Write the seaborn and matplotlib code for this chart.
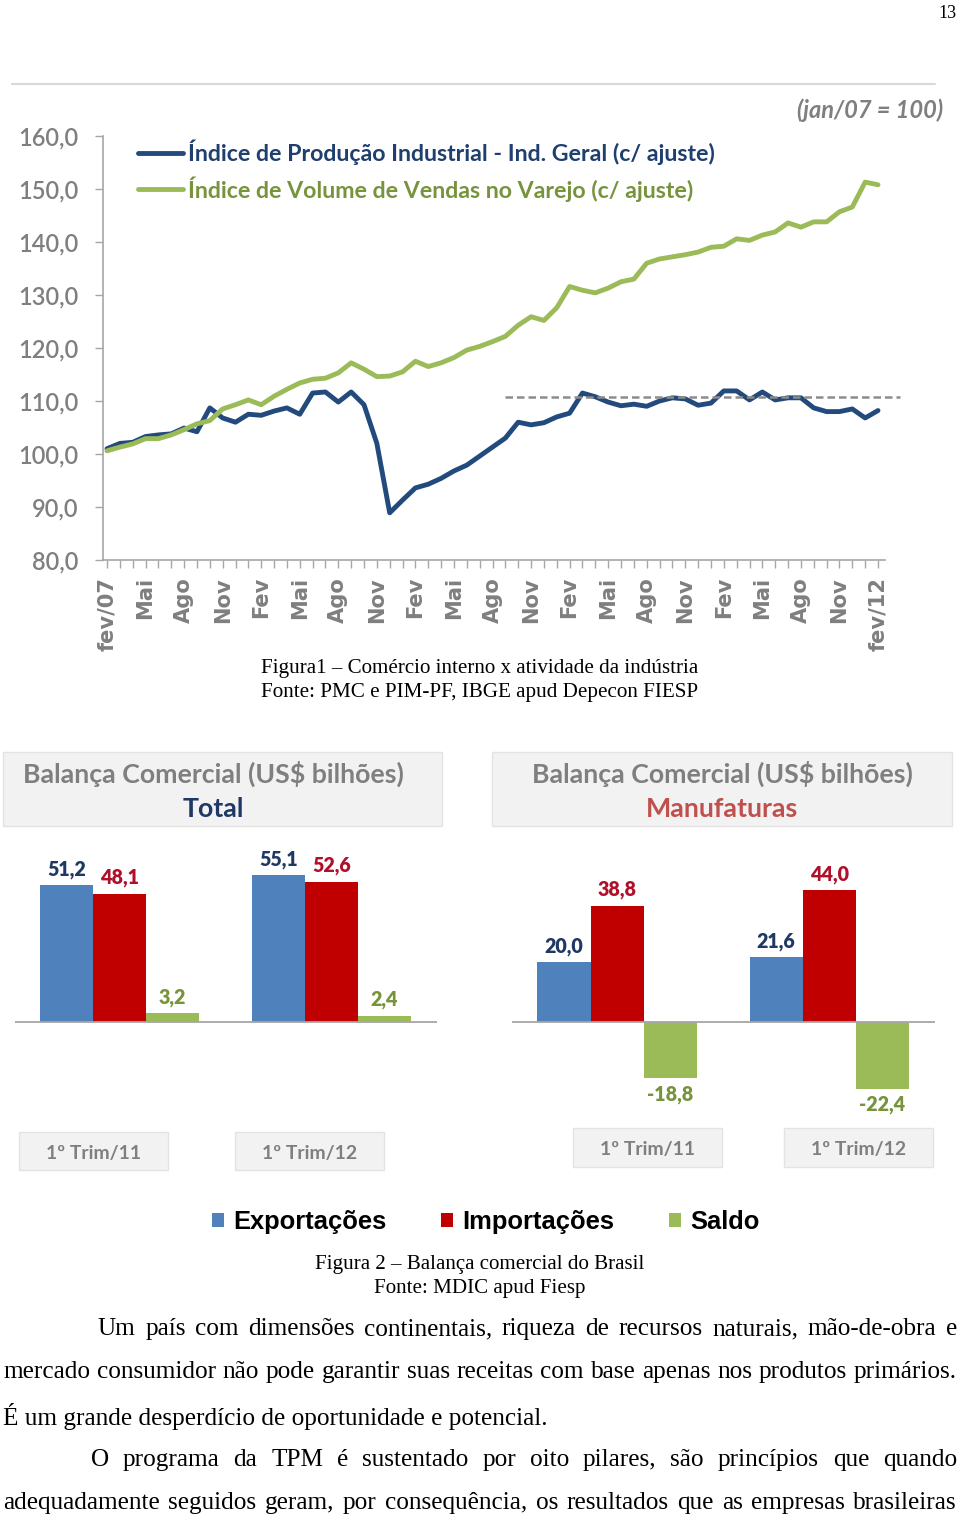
import numpy as np
import pandas as pd
import matplotlib
matplotlib.use('Agg')
import matplotlib.pyplot as plt
import seaborn as sns
from matplotlib.patches import Rectangle
from matplotlib.lines import Line2D
from matplotlib.ticker import MultipleLocator

sns.set_theme(style="white")
plt.rcParams['font.family'] = ['Lato', 'DejaVu Sans']

W, H = 960, 1515

# ---- Figura 1: indices mensais, fev/07 .. fev/12 (jan/07 = 100)
serie_industria = 'Índice de Produção Industrial - Ind. Geral (c/ ajuste)'
serie_varejo = 'Índice de Volume de Vendas no Varejo (c/ ajuste)'
producao_industrial = [
    101.0, 102.0, 102.2, 103.3, 103.6, 103.8, 104.9, 104.2, 108.7, 106.8,
    106.0, 107.5, 107.3, 108.1, 108.7, 107.5, 111.5, 111.7, 109.8, 111.7,
    109.3, 102.0, 88.9, 91.3, 93.6, 94.3, 95.4, 96.8, 97.9, 99.6,
    101.3, 103.0, 106.0, 105.5, 105.9, 107.0, 107.7, 111.5, 110.8, 109.8,
    109.1, 109.4, 109.0, 110.0, 110.6, 110.4, 109.2, 109.6, 111.9, 111.9,
    110.2, 111.7, 110.2, 110.6, 110.6, 108.7, 108.0, 108.0, 108.5, 106.8,
    108.2]
vendas_varejo = [
    100.6, 101.3, 101.9, 102.9, 102.9, 103.6, 104.6, 105.7, 106.3, 108.5,
    109.3, 110.2, 109.3, 110.9, 112.2, 113.4, 114.1, 114.3, 115.3, 117.2,
    116.0, 114.6, 114.7, 115.5, 117.5, 116.5, 117.2, 118.2, 119.6, 120.3,
    121.2, 122.2, 124.3, 125.9, 125.2, 127.6, 131.6, 130.9, 130.4, 131.3,
    132.5, 133.0, 136.0, 136.8, 137.2, 137.6, 138.1, 139.0, 139.2, 140.6,
    140.3, 141.3, 141.9, 143.6, 142.8, 143.8, 143.8, 145.7, 146.6, 151.3,
    150.8]
rotulos_meses = ['fev/07', 'Mai', 'Ago', 'Nov', 'Fev', 'Mai', 'Ago', 'Nov',
                 'Fev', 'Mai', 'Ago', 'Nov', 'Fev', 'Mai', 'Ago', 'Nov',
                 'Fev', 'Mai', 'Ago', 'Nov', 'fev/12']
nivel_referencia = 110.8
ref_inicio, ref_fim = 31, 61.7

# ---- Figura 2: balanca comercial (US$ bilhoes)
trimestres = ['1º Trim/11', '1º Trim/12']
series_bal = ['Exportações', 'Importações', 'Saldo']
total_exp = [51.2, 55.1]
total_imp = [48.1, 52.6]
total_saldo = [3.2, 2.4]
manuf_exp = [20.0, 21.6]
manuf_imp = [38.8, 44.0]
manuf_saldo = [-18.8, -22.4]

azul, verde = '#234a7d', '#9bbb59'
cores_barras = ['#4f81bd', '#c00000', '#9bbb59']
cores_rotulos = ['#1f3864', '#b0102a', '#77933c']
cinza = '#7f7f7f'

fig = plt.figure(figsize=(W / 100, H / 100), dpi=100)
fig.patch.set_facecolor('white')
renderer = fig.canvas.get_renderer()
PT = 100 / 72  # px per point


def px_axes(x0, y0, x1, y1):
    return fig.add_axes([x0 / W, 1 - y1 / H, (x1 - x0) / W, (y1 - y0) / H])


def fit(s, width, **kw):
    t = fig.text(0, 0, s, fontsize=10, **kw)
    w = t.get_window_extent(renderer).width
    t.remove()
    return 10 * width / w


def put(x, y, s, width=None, size=12, ha='center', va='center', **kw):
    if width is not None:
        size = fit(s, width, **kw)
    return fig.text(x / W, 1 - (y + 2) / H, s, fontsize=size, ha=ha, va=va, **kw)


def box(x0, y0, x1, y1, face='#f2f2f2', edge='#e3e3e3'):
    fig.add_artist(Rectangle((x0 / W, 1 - y1 / H), (x1 - x0) / W, (y1 - y0) / H,
                             transform=fig.transFigure, facecolor=face,
                             edgecolor=edge, linewidth=1))


def justify(line, x0, x1, y, size, **kw):
    words = line.split()
    widths = []
    for w_ in words:
        t = fig.text(0, 0, w_, fontsize=size, **kw)
        widths.append(t.get_window_extent(renderer).width)
        t.remove()
    gap = (x1 - x0 - sum(widths)) / (len(words) - 1)
    x = x0
    for w_, wd in zip(words, widths):
        fig.text(x / W, 1 - (y + 2) / H, w_, fontsize=size, ha='left', va='center', **kw)
        x += wd + gap


# page number and top rule
put(957, 12, '13', ha='right', size=13, family='Liberation Serif', color='black')
fig.add_artist(Line2D([12 / W, 935 / W], [1 - 84 / H] * 2, color='#d9d9d9', lw=1.5))

# ================= Figura 1 =================
ax = px_axes(103, 136, 885, 560)
meses = np.arange(len(producao_industrial))
df_idx = pd.DataFrame({
    'mes': np.concatenate([meses, meses]),
    'indice': producao_industrial + vendas_varejo,
    'serie': [serie_industria] * len(meses) + [serie_varejo] * len(meses),
})
sns.lineplot(data=df_idx, x='mes', y='indice', hue='serie',
             hue_order=[serie_industria, serie_varejo], palette=[azul, verde],
             linewidth=3.5, legend=False, ax=ax)
for ln in ax.lines:
    ln.set_solid_joinstyle('round')
ax.hlines(nivel_referencia, ref_inicio, ref_fim, colors='#8c8c8c',
          linestyles=(0, (3, 1.6)), linewidth=1.8, clip_on=False)

ax.set_xlim(-(107 - 103) / 12.85, 60 + (885 - 878) / 12.85)
ax.set_ylim(80, 160)
ax.set_xlabel('')
ax.set_ylabel('')
sns.despine(ax=ax)
for s in ['left', 'bottom']:
    ax.spines[s].set_color('#a6a6a6')
    ax.spines[s].set_linewidth(1.2)

yt = list(range(80, 161, 10))
ax.set_yticks(yt)
ysize = fit('160,0', 60, family='Lato', weight='semibold')
ax.set_yticklabels([f'{v:.1f}'.replace('.', ',') for v in yt],
                   fontsize=ysize, color=cinza, family='Lato', fontweight='semibold')
ax.set_xticks(range(0, 61, 3))
xsize = fit('fev/07', 74, family='DejaVu Sans', weight='bold')
ax.set_xticklabels(rotulos_meses, rotation=90, fontsize=xsize, color=cinza,
                   family='DejaVu Sans', fontweight='bold')
ax.xaxis.set_minor_locator(MultipleLocator(1))
ax.tick_params(axis='y', left=True, direction='out', length=8 / PT, width=1,
               color='#a6a6a6', pad=17 / PT)
ax.tick_params(axis='x', which='both', bottom=True, direction='out',
               length=8 / PT, width=1, color='#a6a6a6', pad=9 / PT)

legsize = fit(serie_industria, 528, family='Lato', weight='bold')
leg = ax.legend(ax.lines[:2], [serie_industria, serie_varejo],
                loc='upper left',
                bbox_to_anchor=(138 / W, 1 - (154 - 0.62 * legsize * PT) / H),
                bbox_transform=fig.transFigure, frameon=False,
                borderpad=0, borderaxespad=0,
                handlelength=45 / PT / legsize, handletextpad=5 / PT / legsize,
                labelspacing=(39 / PT - 1.22 * legsize) / legsize,
                prop={'family': 'Lato', 'weight': 'bold', 'size': legsize})
for t, c in zip(leg.get_texts(), ['#1f3f6e', '#77933c']):
    t.set_color(c)

put(943, 108, '(jan/07 = 100)', width=146, ha='right', color=cinza,
    style='italic', weight='bold', family='Lato')

cap_kw = dict(family='Liberation Serif', color='black')
put(480, 667, 'Figura1 – Comércio interno x atividade da indústria', width=437, **cap_kw)
put(480, 691, 'Fonte: PMC e PIM-PF, IBGE apud Depecon FIESP', width=438, **cap_kw)

# ================= Figura 2 =================
lbl_size = fit('51,2', 39, family='Lato', weight='heavy')


def painel(ax, exp, imp, saldo, ylim, legenda):
    df = pd.DataFrame({'trimestre': trimestres * 3,
                       'serie': np.repeat(series_bal, len(trimestres)),
                       'valor': exp + imp + saldo})
    sns.barplot(data=df, x='trimestre', y='valor', hue='serie',
                hue_order=series_bal, palette=cores_barras, width=0.75,
                saturation=1, linewidth=0, errorbar=None, legend=legenda, ax=ax)
    for cont, c in zip(ax.containers, cores_rotulos):
        ax.bar_label(cont, labels=[f'{v:.1f}'.replace('.', ',') for v in cont.datavalues],
                     padding=4.5, color=c, fontsize=lbl_size, fontweight='heavy',
                     family='Lato')
    ax.axhline(0, color='#a6a6a6', lw=1.3)
    ax.set_xlim(-0.495, 1.498)
    ax.set_ylim(*ylim)
    ax.set_axis_off()


ax1 = px_axes(15, 850, 437, 1100)
painel(ax1, total_exp, total_imp, total_saldo,
       (-(1100 - 1022) / 2.67, (1022 - 850) / 2.67), False)
ax2 = px_axes(512, 850, 935, 1100)
painel(ax2, manuf_exp, manuf_imp, manuf_saldo,
       (-(1100 - 1022) / 3.0, (1022 - 850) / 3.0), True)
leg_b = ax2.get_legend()
handles = leg_b.legend_handles
labels = [t.get_text() for t in leg_b.get_texts()]
leg_b.remove()

# header boxes
head_kw = dict(family='Lato', weight='bold')
hsize = fit('Balança Comercial (US$ bilhões)', 382, **head_kw)
box(3, 752, 442, 826)
box(492, 752, 952, 826)
put(213, 772, 'Balança Comercial (US$ bilhões)', size=hsize, color=cinza, **head_kw)
put(213, 807, 'Total', size=hsize, color='#1f3864', **head_kw)
put(722, 772, 'Balança Comercial (US$ bilhões)', size=hsize, color=cinza, **head_kw)
put(722, 807, 'Manufaturas', size=hsize, color='#c0504d', **head_kw)

# category boxes
csize = fit(trimestres[0], 95, **head_kw)
for (x0, y0, x1, y1), lab in zip([(19, 1132, 168, 1170), (235, 1132, 384, 1170),
                                  (573, 1128, 722, 1167), (784, 1128, 933, 1167)],
                                 trimestres * 2):
    box(x0, y0, x1, y1)
    put((x0 + x1) / 2, (y0 + y1) / 2, lab, size=csize, color=cinza, **head_kw)

# legend
lg_size = fit('Exportações', 153, family='Liberation Sans', weight='bold')
fpx = lg_size * PT
fig.legend(handles, labels, loc='center', bbox_to_anchor=(486 / W, 1 - 1222 / H),
           ncol=3, frameon=False, labelcolor='black',
           handlelength=12 / fpx, handleheight=12 / fpx, handletextpad=9 / fpx,
           columnspacing=55 / fpx, borderpad=0,
           prop={'family': 'Liberation Sans', 'weight': 'bold', 'size': lg_size})

put(480, 1262, 'Figura 2 – Balança comercial do Brasil', width=330, **cap_kw)
put(480, 1287, 'Fonte: MDIC apud Fiesp', width=211, **cap_kw)

# ================= body text =================
body_size = fit('É um grande desperdício de oportunidade e potencial.', 543, **cap_kw)
justify('Um país com dimensões continentais, riqueza de recursos naturais, mão-de-obra e',
        98, 957, 1327, body_size, **cap_kw)
justify('mercado consumidor não pode garantir suas receitas com base apenas nos produtos primários.',
        3, 957, 1370, body_size, **cap_kw)
put(3, 1414, 'É um grande desperdício de oportunidade e potencial.', size=body_size,
    ha='left', **cap_kw)
justify('O programa da TPM é sustentado por oito pilares, são princípios que quando',
        91, 957, 1458, body_size, **cap_kw)
justify('adequadamente seguidos geram, por consequência, os resultados que as empresas brasileiras',
        3, 957, 1501, body_size, **cap_kw)

fig.savefig('out.png', dpi=100, facecolor='white')
